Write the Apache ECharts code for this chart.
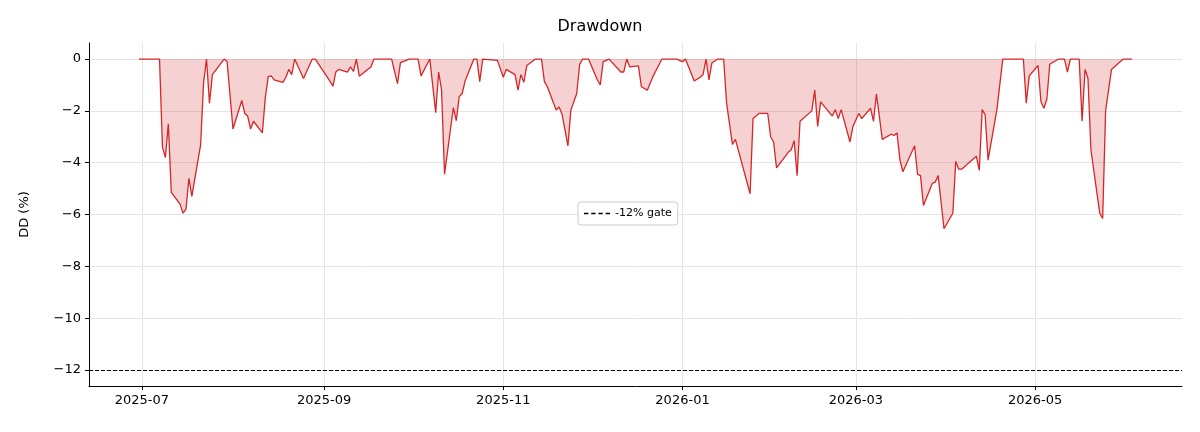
<!DOCTYPE html>
<html><head><meta charset="utf-8">
<script src="https://cdn.jsdelivr.net/npm/echarts@6/dist/echarts.min.js"></script>
<style>html,body{margin:0;padding:0;background:#fff}#c{width:1200px;height:432px}</style>
</head><body><div id="c"></div>
<script>
const dates = ["2025-06-30","2025-07-07","2025-07-08","2025-07-09","2025-07-10","2025-07-11","2025-07-14","2025-07-15","2025-07-16","2025-07-17","2025-07-18","2025-07-21","2025-07-22","2025-07-23","2025-07-24","2025-07-25","2025-07-29","2025-07-30","2025-08-01","2025-08-04","2025-08-05","2025-08-06","2025-08-07","2025-08-08","2025-08-11","2025-08-12","2025-08-13","2025-08-14","2025-08-15","2025-08-18","2025-08-19","2025-08-20","2025-08-21","2025-08-22","2025-08-25","2025-08-28","2025-08-29","2025-09-03","2025-09-04","2025-09-05","2025-09-06","2025-09-09","2025-09-10","2025-09-11","2025-09-12","2025-09-13","2025-09-17","2025-09-18","2025-09-24","2025-09-26","2025-09-27","2025-09-30","2025-10-03","2025-10-04","2025-10-07","2025-10-09","2025-10-10","2025-10-11","2025-10-12","2025-10-15","2025-10-16","2025-10-17","2025-10-18","2025-10-19","2025-10-22","2025-10-23","2025-10-24","2025-10-25","2025-10-30","2025-11-01","2025-11-02","2025-11-05","2025-11-06","2025-11-07","2025-11-08","2025-11-09","2025-11-12","2025-11-14","2025-11-15","2025-11-16","2025-11-19","2025-11-20","2025-11-21","2025-11-23","2025-11-24","2025-11-26","2025-11-27","2025-11-28","2025-11-30","2025-12-03","2025-12-04","2025-12-05","2025-12-07","2025-12-11","2025-12-12","2025-12-13","2025-12-14","2025-12-17","2025-12-18","2025-12-20","2025-12-22","2025-12-25","2025-12-30","2026-01-01","2026-01-02","2026-01-05","2026-01-07","2026-01-08","2026-01-09","2026-01-10","2026-01-11","2026-01-13","2026-01-15","2026-01-16","2026-01-18","2026-01-19","2026-01-24","2026-01-25","2026-01-27","2026-01-30","2026-01-31","2026-02-01","2026-02-02","2026-02-06","2026-02-07","2026-02-08","2026-02-09","2026-02-10","2026-02-14","2026-02-15","2026-02-16","2026-02-17","2026-02-21","2026-02-22","2026-02-23","2026-02-24","2026-02-27","2026-02-28","2026-03-02","2026-03-03","2026-03-06","2026-03-07","2026-03-08","2026-03-10","2026-03-13","2026-03-14","2026-03-15","2026-03-16","2026-03-17","2026-03-21","2026-03-22","2026-03-23","2026-03-24","2026-03-27","2026-03-28","2026-03-29","2026-03-31","2026-04-03","2026-04-04","2026-04-05","2026-04-06","2026-04-11","2026-04-12","2026-04-13","2026-04-14","2026-04-15","2026-04-18","2026-04-20","2026-04-27","2026-04-28","2026-04-29","2026-05-02","2026-05-03","2026-05-04","2026-05-05","2026-05-06","2026-05-09","2026-05-11","2026-05-12","2026-05-13","2026-05-16","2026-05-17","2026-05-18","2026-05-19","2026-05-20","2026-05-23","2026-05-24","2026-05-25","2026-05-27","2026-05-31","2026-06-03"];
const drawdown = [0,0,-3.4,-3.8,-2.5,-5.15,-5.6,-5.95,-5.8,-4.6,-5.3,-3.3,-0.9,0,-1.7,-0.6,0,-0.1,-2.7,-1.6,-2.1,-2.2,-2.7,-2.4,-2.85,-1.5,-0.68,-0.65,-0.8,-0.9,-0.7,-0.4,-0.6,0,-0.75,0,0,-0.85,-1.05,-0.5,-0.4,-0.5,-0.3,-0.48,0,-0.66,-0.3,0,0,-0.95,-0.14,0,0,-0.65,0,-2.07,-0.5,-1.2,-4.45,-1.88,-2.38,-1.45,-1.33,-0.85,0,0,-0.87,0,-0.05,-0.7,-0.4,-0.6,-1.2,-0.6,-0.9,-0.25,0,0,-0.87,-1.07,-1.97,-1.85,-2.13,-3.35,-1.97,-1.33,-0.2,0,0,-0.8,-1.0,-0.1,0,-0.5,-0.5,0,-0.3,-0.26,-1.07,-1.2,-0.66,0,0,-0.1,0,-0.85,-0.7,-0.6,0,-0.8,-0.15,0,0,-1.7,-3.3,-3.1,-5.2,-2.3,-2.1,-2.1,-3.0,-3.2,-4.2,-3.6,-3.5,-3.15,-4.5,-2.4,-2.0,-1.2,-2.6,-1.65,-2.2,-1.95,-2.3,-1.95,-3.2,-2.6,-2.1,-2.3,-1.9,-2.4,-1.35,-3.1,-2.9,-2.95,-2.85,-3.9,-4.35,-3.35,-4.45,-4.5,-5.65,-4.8,-4.75,-4.5,-6.55,-5.95,-3.95,-4.25,-4.25,-3.75,-4.3,-1.95,-2.15,-3.9,-1.95,0,0,-1.7,-0.65,-0.25,-1.65,-1.9,-1.55,-0.2,0,0,-0.5,0,0,-2.4,-0.4,-0.75,-3.5,-5.95,-6.15,-2.0,-0.4,0,0];
const gate = -12;
const yTicks = [-12,-10,-8,-6,-4,-2,0];
const xTicks = ["2025-07-01","2025-09-01","2025-11-01","2026-01-01","2026-03-01","2026-05-01"];

const ts = s => new Date(s + "T00:00:00Z").getTime();
const pad = n => (n < 10 ? "0" : "") + n;
const font = "DejaVu Sans";
const chart = echarts.init(document.getElementById('c'));
chart.setOption({
  animation: false,
  textStyle: {fontFamily: font},
  title: {text: "Drawdown", left: "center", top: 14, textStyle: {fontFamily: font, fontSize: 16, fontWeight: "normal", color: "#000"}},
  grid: {left: 89, right: 18, top: 43, bottom: 46},
  legend: {
    data: [{name: "-12% gate", icon: "path://M0,0h3v1h-3zM5,0h3v1h-3zM10,0h3v1h-3zM15,0h3v1h-3z"}],
    left: 578, top: 202, itemWidth: 26, itemHeight: 2,
    borderColor: "#ccc", borderWidth: 1, borderRadius: 3, backgroundColor: "#fff",
    padding: [6, 6, 6, 6],
    textStyle: {fontFamily: font, fontSize: 11, color: "#000"}
  },
  xAxis: {
    type: "value", min: ts("2025-06-13"), max: ts("2026-06-20"),
    axisLine: {onZero: false, lineStyle: {color: "#000"}},
    axisTick: {customValues: xTicks.map(ts), length: 4, lineStyle: {color: "#000"}},
    axisLabel: {customValues: xTicks.map(ts), color: "#000", fontSize: 13, fontFamily: font,
      formatter: v => { const d = new Date(v); return d.getUTCFullYear() + "-" + pad(d.getUTCMonth() + 1); }},
    splitLine: {show: true, lineStyle: {color: "#e5e5e5"}}
  },
  yAxis: {
    type: "value", min: -12.62, max: 0.62,
    name: "DD (%)", nameLocation: "middle", nameGap: 58, nameTextStyle: {fontFamily: font, fontSize: 13, color: "#000"},
    axisLine: {show: true, lineStyle: {color: "#000"}},
    axisTick: {show: true, customValues: yTicks, length: 4, lineStyle: {color: "#000"}},
    axisLabel: {customValues: yTicks, color: "#000", fontSize: 13, fontFamily: font, formatter: v => v === 0 ? "0" : "\u2212" + Math.abs(v)},
    splitLine: {show: true, lineStyle: {color: "#e5e5e5"}}
  },
  series: [
    {
      name: "DD", type: "line", showSymbol: false, symbol: "none",
      data: dates.map((d, i) => [ts(d), drawdown[i]]),
      lineStyle: {color: "#d62728", width: 1.3},
      itemStyle: {color: "#d62728"},
      areaStyle: {color: "rgba(214,39,40,0.3)", origin: "auto"}
    },
    {
      name: "-12% gate", type: "line", data: [],
      itemStyle: {color: "#000"}, lineStyle: {color: "#000", type: "dashed"},
      markLine: {silent: true, symbol: "none", label: {show: false},
        lineStyle: {color: "#000", type: [4, 2], width: 1.2}, data: [{yAxis: gate}]}
    }
  ]
});
</script></body></html>
